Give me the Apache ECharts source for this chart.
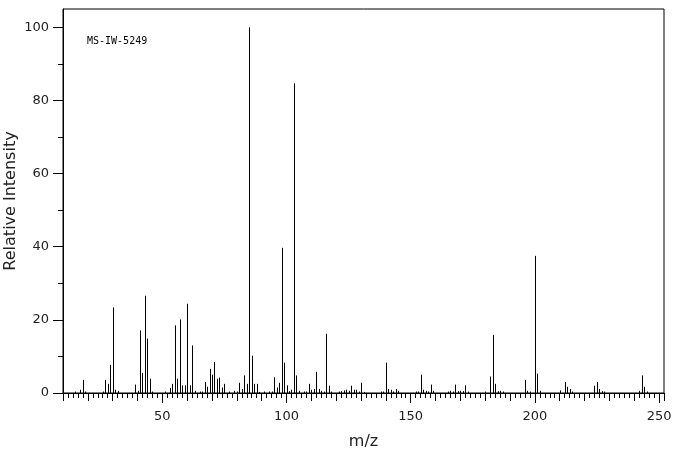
<!DOCTYPE html>
<html>
<head>
<meta charset="utf-8">
<script src="https://cdn.jsdelivr.net/npm/echarts@6/dist/echarts.min.js"></script>
<style>
    html, body { margin: 0; padding: 0; background: #fff; }
    #mainChart { width: 676px; height: 455px; }
</style>
</head>
<body>
<div id="mainChart"></div>
<script>
// peaks (m/z, relative intensity)
const mzValues = [15, 17, 18, 19, 26, 27, 28, 29, 30, 31, 32, 39, 40, 41, 42, 43, 44, 45, 46,
    51, 53, 54, 55, 56, 57, 58, 59, 60, 61, 62, 63, 65, 66, 67, 68, 69, 70, 71, 72, 73, 74, 75, 77, 79,
    80, 81, 82, 83, 84, 85, 86, 87, 88, 89, 91, 93, 94, 95, 96, 97, 98, 99, 100, 101, 102, 103, 104, 105,
    107, 108, 109, 110, 111, 112, 113, 114, 115, 116, 117, 118, 121, 122, 123, 124, 125, 126, 127, 128,
    129, 130, 131, 138, 139, 140, 141, 142, 143, 144, 145, 152, 153, 154, 155, 156, 157, 158, 159,
    165, 166, 167, 168, 169, 170, 171, 172, 173, 180, 182, 183, 184, 185, 186, 187, 196, 197, 198,
    200, 201, 202, 210, 212, 213, 214, 215, 224, 225, 226, 227, 228, 242, 243, 244, 245];
const intensities = [0.4, 0.9, 3.6, 0.4, 0.4, 3.6, 2.5, 7.7, 23.4, 0.9, 0.6, 2.3, 0.6, 17.1, 5.5, 26.6, 14.9, 3.9, 0.4,
    0.4, 1.4, 2.5, 18.5, 3.9, 20.1, 2.1, 2.1, 24.4, 2.1, 13.0, 0.6, 0.4, 0.4, 3.0, 1.7, 6.6, 5.0, 8.5, 3.9, 4.2, 1.5, 2.5, 0.4, 0.6,
    0.4, 2.8, 1.1, 4.8, 2.5, 100, 10.2, 2.5, 2.5, 0.3, 0.4, 0.4, 0.4, 4.3, 1.5, 2.8, 39.7, 8.3, 2.1, 0.5, 0.9, 84.7, 4.8, 0.6,
    0.4, 0.4, 2.5, 0.9, 1.1, 5.8, 1.1, 0.6, 0.4, 16.2, 2.0, 0.4, 0.4, 0.5, 0.7, 0.9, 0.6, 2.0, 0.9, 0.9,
    0.4, 2.8, 0.3, 0.4, 0.4, 8.3, 1.1, 0.9, 0.4, 1.1, 0.6, 0.4, 0.4, 5.0, 0.9, 0.6, 0.4, 2.3, 0.6,
    0.4, 0.6, 0.4, 2.3, 0.5, 0.6, 0.5, 2.1, 0.4, 0.4, 4.5, 15.9, 2.5, 0.5, 0.6, 0.4, 3.6, 0.6, 0.4,
    37.5, 5.3, 0.6, 0.7, 3.0, 1.7, 1.1, 0.4, 2.0, 3.0, 1.1, 0.5, 0.4, 0.6, 4.8, 1.7, 0.4];

const xLabels = [50, 100, 150, 200, 250];
const yLabels = [0, 20, 40, 60, 80, 100];
const yMinorTicks = [10, 30, 50, 70, 90];
const sampleName = 'MS-IW-5249';

const xMin = 10, xMax = 252, yMin = 0, yMax = 105;
const labelFont = 'DejaVu Sans';

let myChart = echarts.init(document.getElementById('mainChart'));

const peakData = mzValues.map(function (mz, i) {
    return [mz, intensities[i]];
});

function renderPeak(params, api) {
    const base = api.coord([api.value(0), 0]);
    const top = api.coord([api.value(0), api.value(1)]);
    const x = Math.round(base[0]) + 0.5;
    return {
        type: 'line',
        shape: {x1: x, y1: base[1], x2: x, y2: top[1]},
        style: {stroke: '#000', lineWidth: 1}
    };
}

function hiddenXAxis(tickLen, interval, custom) {
    const ax = {
        type: 'value',
        min: xMin,
        max: xMax,
        position: 'bottom',
        axisLine: {show: false},
        axisLabel: {show: false},
        splitLine: {show: false},
        axisTick: {show: true, length: tickLen, lineStyle: {color: '#000', width: 1}}
    };
    if (interval) ax.interval = interval;
    if (custom) ax.axisTick.customValues = custom;
    return ax;
}

const option = {
    animation: false,
    backgroundColor: '#fff',
    title: {
        text: sampleName,
        left: 87,
        top: 36,
        padding: 0,
        textStyle: {
            fontFamily: 'DejaVu Sans Mono',
            fontSize: 10,
            fontWeight: 'normal',
            color: '#000'
        }
    },
    grid: {
        left: 63,
        right: 12,
        top: 9,
        bottom: 62,
        outerBoundsMode: 'none',
        containLabel: false,
        show: true,
        borderColor: '#000',
        borderWidth: 1,
        backgroundColor: 'transparent'
    },
    xAxis: [
        {
            type: 'value',
            min: xMin,
            max: xMax,
            interval: 2,
            position: 'bottom',
            name: 'm/z',
            nameLocation: 'middle',
            nameGap: 41,
            nameMoveOverlap: false,
            nameTextStyle: {fontFamily: labelFont, fontSize: 16, color: '#222'},
            axisLine: {show: true, lineStyle: {color: '#000', width: 1}},
            axisTick: {show: true, length: 5, lineStyle: {color: '#000', width: 1}},
            axisLabel: {
                show: true,
                margin: 17,
                customValues: xLabels,
                fontFamily: labelFont,
                fontSize: 13,
                color: '#222'
            },
            splitLine: {show: false}
        },
        hiddenXAxis(8, 10, null),
        hiddenXAxis(10, null, xLabels)
    ],
    yAxis: [
        {
            type: 'value',
            min: yMin,
            max: yMax,
            name: 'Relative Intensity',
            nameLocation: 'middle',
            nameGap: 44,
            nameMoveOverlap: false,
            nameTextStyle: {fontFamily: labelFont, fontSize: 16, color: '#222'},
            axisLine: {show: true, lineStyle: {color: '#000', width: 1}},
            axisTick: {show: true, length: 10, customValues: yLabels, lineStyle: {color: '#000', width: 1}},
            axisLabel: {
                show: true,
                margin: 14,
                customValues: yLabels,
                fontFamily: labelFont,
                fontSize: 13,
                color: '#222'
            },
            splitLine: {show: false}
        },
        {
            type: 'value',
            min: yMin,
            max: yMax,
            position: 'left',
            axisLine: {show: false},
            axisLabel: {show: false},
            splitLine: {show: false},
            axisTick: {show: true, length: 5, customValues: yMinorTicks, lineStyle: {color: '#000', width: 1}}
        }
    ],
    series: [
        {
            name: 'peaks',
            type: 'custom',
            xAxisIndex: 0,
            yAxisIndex: 0,
            renderItem: renderPeak,
            encode: {x: 0, y: 1},
            data: peakData,
            silent: true
        }
    ]
};

myChart.setOption(option);
</script>
</body>
</html>
